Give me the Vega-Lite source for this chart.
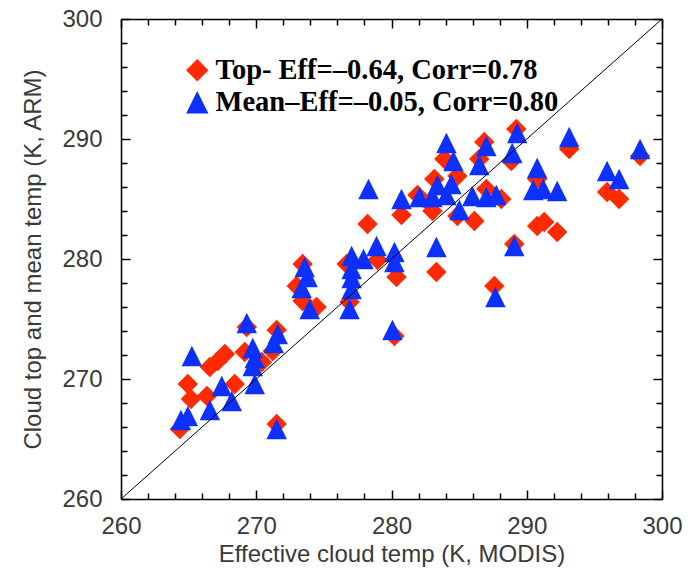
{
  "$schema": "https://vega.github.io/schema/vega-lite/v6.json",
  "width": 541,
  "height": 480,
  "autosize": "none",
  "padding": {"left": 121, "top": 19, "right": 38, "bottom": 75},
  "background": "white",
  "config": {
    "view": {"stroke": null},
    "axis": {
      "grid": false,
      "domainColor": "black",
      "domainWidth": 1.5,
      "tickColor": "black",
      "tickWidth": 1.5,
      "labelFont": "Liberation Sans",
      "labelFontSize": 24,
      "labelColor": "#3a3a3a",
      "titleFont": "Liberation Sans",
      "titleFontSize": 24,
      "titleFontWeight": "normal",
      "titleColor": "#3a3a3a",
      "labelFlush": false,
      "labelOverlap": false
    }
  },
  "layer": [
    {
      "data": {
        "values": [
          {"series": "Top", "modis": 264.35, "arm": 265.83},
          {"series": "Top", "modis": 264.94, "arm": 269.58},
          {"series": "Top", "modis": 265.17, "arm": 268.33},
          {"series": "Top", "modis": 266.57, "arm": 271.0},
          {"series": "Top", "modis": 267.16, "arm": 271.5},
          {"series": "Top", "modis": 267.68, "arm": 272.08},
          {"series": "Top", "modis": 266.35, "arm": 268.58},
          {"series": "Top", "modis": 268.41, "arm": 269.58},
          {"series": "Top", "modis": 269.15, "arm": 272.25},
          {"series": "Top", "modis": 269.3, "arm": 274.33},
          {"series": "Top", "modis": 271.22, "arm": 272.33},
          {"series": "Top", "modis": 270.41, "arm": 271.42},
          {"series": "Top", "modis": 271.51, "arm": 266.25},
          {"series": "Top", "modis": 271.51, "arm": 274.08},
          {"series": "Top", "modis": 273.43, "arm": 279.58},
          {"series": "Top", "modis": 272.99, "arm": 277.75},
          {"series": "Top", "modis": 273.43, "arm": 276.5},
          {"series": "Top", "modis": 274.46, "arm": 276.0},
          {"series": "Top", "modis": 276.68, "arm": 279.58},
          {"series": "Top", "modis": 276.9, "arm": 276.42},
          {"series": "Top", "modis": 278.23, "arm": 282.92},
          {"series": "Top", "modis": 278.97, "arm": 279.92},
          {"series": "Top", "modis": 280.37, "arm": 278.5},
          {"series": "Top", "modis": 280.22, "arm": 273.58},
          {"series": "Top", "modis": 280.74, "arm": 283.67},
          {"series": "Top", "modis": 281.92, "arm": 285.33},
          {"series": "Top", "modis": 282.8, "arm": 284.67},
          {"series": "Top", "modis": 283.17, "arm": 286.67},
          {"series": "Top", "modis": 283.91, "arm": 288.33},
          {"series": "Top", "modis": 284.87, "arm": 286.92},
          {"series": "Top", "modis": 283.03, "arm": 284.0},
          {"series": "Top", "modis": 283.32, "arm": 278.92},
          {"series": "Top", "modis": 284.87, "arm": 283.58},
          {"series": "Top", "modis": 286.13, "arm": 283.17},
          {"series": "Top", "modis": 287.01, "arm": 285.83},
          {"series": "Top", "modis": 286.86, "arm": 289.75},
          {"series": "Top", "modis": 286.49, "arm": 288.33},
          {"series": "Top", "modis": 288.12, "arm": 285.0},
          {"series": "Top", "modis": 288.86, "arm": 288.17},
          {"series": "Top", "modis": 289.23, "arm": 290.83},
          {"series": "Top", "modis": 289.08, "arm": 281.25},
          {"series": "Top", "modis": 287.6, "arm": 277.75},
          {"series": "Top", "modis": 293.14, "arm": 289.17},
          {"series": "Top", "modis": 290.77, "arm": 286.67},
          {"series": "Top", "modis": 290.77, "arm": 282.75},
          {"series": "Top", "modis": 291.29, "arm": 283.08},
          {"series": "Top", "modis": 292.25, "arm": 282.25},
          {"series": "Top", "modis": 295.94, "arm": 285.58},
          {"series": "Top", "modis": 296.83, "arm": 285.0},
          {"series": "Top", "modis": 298.38, "arm": 288.58},
          {"series": "Mean", "modis": 264.43, "arm": 266.58},
          {"series": "Mean", "modis": 264.94, "arm": 266.92},
          {"series": "Mean", "modis": 265.24, "arm": 271.92},
          {"series": "Mean", "modis": 266.57, "arm": 267.42},
          {"series": "Mean", "modis": 267.45, "arm": 269.42},
          {"series": "Mean", "modis": 268.19, "arm": 268.17},
          {"series": "Mean", "modis": 269.3, "arm": 274.67},
          {"series": "Mean", "modis": 269.74, "arm": 272.58},
          {"series": "Mean", "modis": 269.89, "arm": 271.75},
          {"series": "Mean", "modis": 269.74, "arm": 271.08},
          {"series": "Mean", "modis": 269.89, "arm": 269.58},
          {"series": "Mean", "modis": 271.59, "arm": 273.75},
          {"series": "Mean", "modis": 271.29, "arm": 273.0},
          {"series": "Mean", "modis": 271.51, "arm": 265.83},
          {"series": "Mean", "modis": 273.58, "arm": 279.33},
          {"series": "Mean", "modis": 273.8, "arm": 278.5},
          {"series": "Mean", "modis": 273.36, "arm": 277.58},
          {"series": "Mean", "modis": 273.95, "arm": 275.83},
          {"series": "Mean", "modis": 277.05, "arm": 280.25},
          {"series": "Mean", "modis": 277.05, "arm": 279.17},
          {"series": "Mean", "modis": 277.05, "arm": 278.42},
          {"series": "Mean", "modis": 277.05, "arm": 277.5},
          {"series": "Mean", "modis": 276.9, "arm": 275.83},
          {"series": "Mean", "modis": 277.93, "arm": 280.0},
          {"series": "Mean", "modis": 278.89, "arm": 281.08},
          {"series": "Mean", "modis": 280.22, "arm": 280.58},
          {"series": "Mean", "modis": 280.22, "arm": 279.75},
          {"series": "Mean", "modis": 280.07, "arm": 274.08},
          {"series": "Mean", "modis": 278.3, "arm": 285.83},
          {"series": "Mean", "modis": 280.74, "arm": 285.0},
          {"series": "Mean", "modis": 282.07, "arm": 285.17},
          {"series": "Mean", "modis": 283.39, "arm": 286.17},
          {"series": "Mean", "modis": 284.43, "arm": 286.25},
          {"series": "Mean", "modis": 283.03, "arm": 285.17},
          {"series": "Mean", "modis": 284.06, "arm": 285.33},
          {"series": "Mean", "modis": 285.02, "arm": 284.08},
          {"series": "Mean", "modis": 285.98, "arm": 285.25},
          {"series": "Mean", "modis": 287.01, "arm": 285.17},
          {"series": "Mean", "modis": 287.75, "arm": 285.33},
          {"series": "Mean", "modis": 284.06, "arm": 289.67},
          {"series": "Mean", "modis": 284.58, "arm": 288.17},
          {"series": "Mean", "modis": 287.01, "arm": 289.42},
          {"series": "Mean", "modis": 286.49, "arm": 287.83},
          {"series": "Mean", "modis": 289.3, "arm": 290.5},
          {"series": "Mean", "modis": 288.93, "arm": 288.83},
          {"series": "Mean", "modis": 293.14, "arm": 290.17},
          {"series": "Mean", "modis": 290.77, "arm": 287.58},
          {"series": "Mean", "modis": 290.48, "arm": 285.75},
          {"series": "Mean", "modis": 291.22, "arm": 285.83},
          {"series": "Mean", "modis": 292.25, "arm": 285.67},
          {"series": "Mean", "modis": 289.08, "arm": 281.08},
          {"series": "Mean", "modis": 287.68, "arm": 276.83},
          {"series": "Mean", "modis": 283.32, "arm": 281.0},
          {"series": "Mean", "modis": 295.94, "arm": 287.33},
          {"series": "Mean", "modis": 296.83, "arm": 286.67},
          {"series": "Mean", "modis": 298.38, "arm": 289.17}
        ]
      },
      "mark": {"type": "point", "filled": true, "opacity": 1, "size": 420, "strokeWidth": 0},
      "encoding": {
        "x": {
          "field": "modis", "type": "quantitative",
          "scale": {"domain": [260, 300], "nice": false, "zero": false},
          "axis": {
            "orient": "bottom",
            "values": [260, 262, 264, 266, 268, 270, 272, 274, 276, 278, 280, 282, 284, 286, 288, 290, 292, 294, 296, 298, 300],
            "labelExpr": "datum.value % 10 === 0 ? datum.label : ''",
            "tickSize": {"condition": {"test": "datum.value % 10 === 0", "value": -9}, "value": -6},
            "labelPadding": 24,
            "title": "Effective cloud temp (K, MODIS)",
            "titlePadding": 1
          }
        },
        "y": {
          "field": "arm", "type": "quantitative",
          "scale": {"domain": [260, 300], "nice": false, "zero": false},
          "axis": {
            "orient": "left",
            "values": [260, 262, 264, 266, 268, 270, 272, 274, 276, 278, 280, 282, 284, 286, 288, 290, 292, 294, 296, 298, 300],
            "labelExpr": "datum.value % 10 === 0 ? datum.label : ''",
            "tickSize": {"condition": {"test": "datum.value % 10 === 0", "value": -9}, "value": -6},
            "labelPadding": 28,
            "title": "Cloud top and mean temp (K, ARM)",
            "titlePadding": 16
          }
        },
        "color": {
          "field": "series", "type": "nominal",
          "scale": {"domain": ["Top", "Mean"], "range": ["#ff2a00", "#0b30ff"]},
          "legend": {
            "orient": "none", "legendX": 62, "legendY": 37, "title": null, "padding": 0,
            "labelExpr": "datum.label === 'Top' ? 'Top- Eff=–0.64, Corr=0.78' : 'Mean–Eff=–0.05, Corr=0.80'",
            "labelFont": "Liberation Serif", "labelFontWeight": "bold", "labelFontSize": 28.5,
            "labelColor": "black", "labelLimit": 600, "labelOffset": 4,
            "symbolSize": 500, "symbolStrokeWidth": 0, "rowPadding": 3
          }
        },
        "shape": {
          "field": "series", "type": "nominal",
          "scale": {"domain": ["Top", "Mean"], "range": ["diamond", "M0,-1L1,1L-1,1Z"]},
          "legend": {
            "orient": "none", "legendX": 62, "legendY": 37, "title": null, "padding": 0,
            "labelExpr": "datum.label === 'Top' ? 'Top- Eff=–0.64, Corr=0.78' : 'Mean–Eff=–0.05, Corr=0.80'",
            "labelFont": "Liberation Serif", "labelFontWeight": "bold", "labelFontSize": 28.5,
            "labelColor": "black", "labelLimit": 600, "labelOffset": 4,
            "symbolSize": 500, "symbolStrokeWidth": 0, "rowPadding": 3
          }
        }
      }
    },
    {
      "data": {"values": [{"modis": 260, "arm": 260}, {"modis": 300, "arm": 300}]},
      "mark": {"type": "line", "color": "black", "strokeWidth": 1},
      "encoding": {
        "x": {
          "field": "modis", "type": "quantitative",
          "scale": {"domain": [260, 300], "nice": false, "zero": false},
          "axis": {
            "orient": "top",
            "values": [260, 262, 264, 266, 268, 270, 272, 274, 276, 278, 280, 282, 284, 286, 288, 290, 292, 294, 296, 298, 300],
            "labels": false,
            "tickSize": {"condition": {"test": "datum.value % 10 === 0", "value": -9}, "value": -6},
            "title": null
          }
        },
        "y": {
          "field": "arm", "type": "quantitative",
          "scale": {"domain": [260, 300], "nice": false, "zero": false},
          "axis": {
            "orient": "right",
            "values": [260, 262, 264, 266, 268, 270, 272, 274, 276, 278, 280, 282, 284, 286, 288, 290, 292, 294, 296, 298, 300],
            "labels": false,
            "tickSize": {"condition": {"test": "datum.value % 10 === 0", "value": -9}, "value": -6},
            "title": null
          }
        }
      }
    }
  ],
  "resolve": {"axis": {"x": "independent", "y": "independent"}}
}
